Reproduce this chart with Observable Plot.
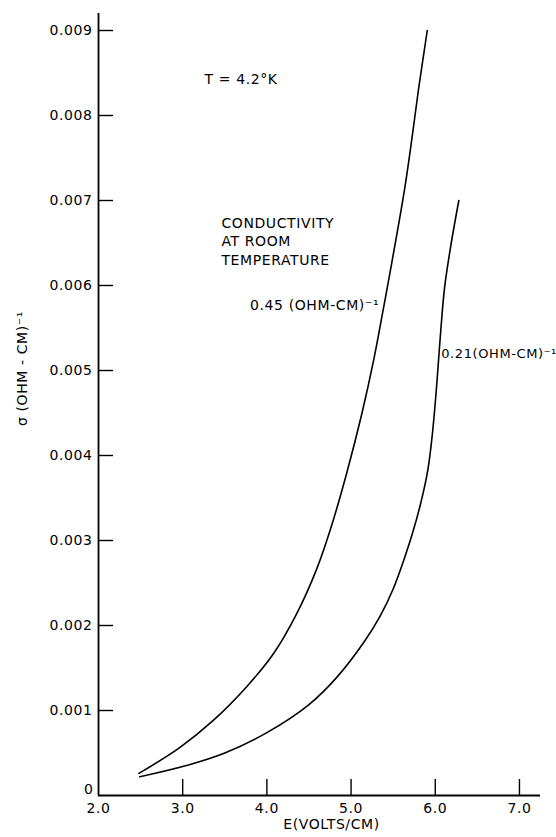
<!DOCTYPE html>
<html>
<head>
<meta charset="utf-8">
<script src="https://cdn.jsdelivr.net/npm/d3@7"></script>
<script src="https://cdn.jsdelivr.net/npm/@observablehq/plot@0.6"></script>
<style>
  html, body { margin: 0; padding: 0; background: #fff; }
  #chart { width: 556px; height: 837px; }
  svg { letter-spacing: 0.6px; }
</style>
</head>
<body>
<div id="chart"></div>
<script>
// Curve for room-temperature conductivity 0.45 (OHM-CM)^-1
const fieldA = [2.48, 2.96, 3.36, 3.76, 4.08, 4.35, 4.59, 4.77, 4.95, 5.13, 5.27, 5.39, 5.54, 5.64, 5.72, 5.80, 5.905];
const sigmaA = [0.00026, 0.00056, 0.00088, 0.00128, 0.00167, 0.00213, 0.00266, 0.00318, 0.0038, 0.0045, 0.00513, 0.00576, 0.00658, 0.00716, 0.00771, 0.0083, 0.0090];
// Curve for room-temperature conductivity 0.21 (OHM-CM)^-1
const fieldB = [2.49, 3.0, 3.5, 4.0, 4.5, 4.83, 5.15, 5.35, 5.5, 5.64, 5.74, 5.83, 5.91, 5.96, 6.0, 6.03, 6.06, 6.11, 6.19, 6.28];
const sigmaB = [0.00022, 0.00034, 0.0005, 0.00074, 0.00107, 0.00139, 0.0018, 0.00212, 0.00243, 0.00281, 0.00312, 0.00345, 0.00382, 0.0042, 0.00462, 0.005, 0.0054, 0.00597, 0.0065, 0.0070];

const xTicks = [2, 3, 4, 5, 6, 7];
const yTicks = [0, 0.001, 0.002, 0.003, 0.004, 0.005, 0.006, 0.007, 0.008, 0.009];
const xTickLabels = ["2.0", "3.0", "4.0", "5.0", "6.0", "7.0"];
const yTickLabels = ["0", "0.001", "0.002", "0.003", "0.004", "0.005", "0.006", "0.007", "0.008", "0.009"];

const xTitle = "E(VOLTS/CM)";
const yTitle = "σ (OHM - CM)⁻¹";

const noteText = ["T = 4.2°K", "CONDUCTIVITY\nAT ROOM\nTEMPERATURE", "0.45 (OHM-CM)⁻¹"];
const noteX = [3.26, 3.46, 3.80];
const noteY = [0.00844, 0.00653, 0.00578];
const note2Text = ["0.21(OHM-CM)⁻¹"];
const note2X = [6.07];
const note2Y = [0.0052];

const curves = [
  ...fieldA.map((e, i) => ({E: e, s: sigmaA[i], series: "0.45"})),
  ...fieldB.map((e, i) => ({E: e, s: sigmaB[i], series: "0.21"}))
];
const notes = noteText.map((t, i) => ({t, x: noteX[i], y: noteY[i]}));
const notes2 = note2Text.map((t, i) => ({t, x: note2X[i], y: note2Y[i]}));

// layout
const W = 556, H = 837, mL = 98, mR = 16, mT = 13, mB = 42;
const xDom = [2, 7.25], yDom = [0, 0.0092];

const fmtX = d => xTickLabels[xTicks.indexOf(d)];
const fmtY = d => yTickLabels[yTicks.findIndex(v => Math.abs(v - d) < 1e-9)];

// inward tick marks drawn as short rules anchored on the axis lines (pixel insets)
const plotH = H - mT - mB, plotW = W - mL - mR;

const chart = Plot.plot({
  width: W,
  height: H,
  marginLeft: mL,
  marginRight: mR,
  marginTop: mT,
  marginBottom: mB,
  x: {domain: xDom},
  y: {domain: yDom},
  style: {fontFamily: "DejaVu Sans", fontSize: "14px", background: "#fff", color: "#000"},
  marks: [
    Plot.ruleX([xDom[0]], {stroke: "#000", strokeWidth: 1.8}),
    Plot.ruleY([yDom[0]], {stroke: "#000", strokeWidth: 1.8}),
    Plot.ruleX(xTicks.filter(d => d > xDom[0]), {x: d => d, insetTop: plotH - 16, stroke: "#000", strokeWidth: 1.4}),
    Plot.ruleY(yTicks.filter(d => d > yDom[0]), {y: d => d, insetRight: plotW - 15, stroke: "#000", strokeWidth: 1.4}),
    Plot.axisX(xTicks, {tickSize: 0, tickPadding: 8, tickFormat: fmtX, label: null, fontSize: 14}),
    Plot.axisY(yTicks.filter(d => d > 0), {tickSize: 0, tickPadding: 6, tickFormat: fmtY, label: null, fontSize: 14}),
    Plot.axisY([0], {tickSize: 0, tickPadding: 5, tickFormat: fmtY, label: null, fontSize: 14, dy: -6}),
    Plot.line(curves, {x: "E", y: "s", z: "series", curve: "catmull-rom", stroke: "#000", strokeWidth: 1.6}),
    Plot.text(notes, {x: "x", y: "y", text: "t", textAnchor: "start", lineAnchor: "middle", lineHeight: 1.32, fontSize: 14}),
    Plot.text(notes2, {x: "x", y: "y", text: "t", textAnchor: "start", lineAnchor: "middle", fontSize: 13, style: {letterSpacing: "0px"}}),
    Plot.text([xTitle], {frameAnchor: "bottom", text: d => d, textAnchor: "middle", dx: 12, dy: 33, fontSize: 14}),
    Plot.text([yTitle], {frameAnchor: "left", text: d => d, textAnchor: "middle", rotate: -90, dx: -76, dy: -36, fontSize: 14})
  ]
});
document.getElementById("chart").appendChild(chart);
</script>
</body>
</html>
